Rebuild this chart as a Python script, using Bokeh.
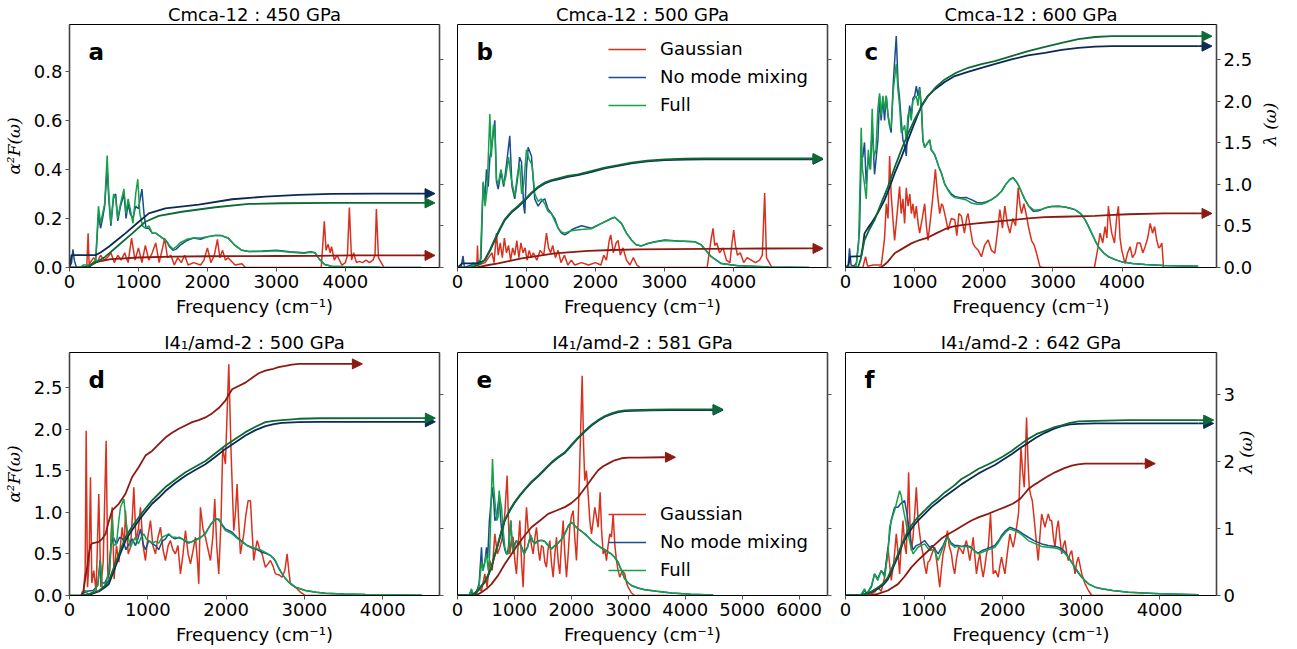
import numpy as np
from bokeh.plotting import figure
from bokeh.models import (Range1d, LinearAxis, Label, Legend, LegendItem, FixedTicker,
                          NumeralTickFormatter, CustomJSTickFormatter, Arrow, NormalHead)
from bokeh.layouts import row, column
from bokeh.embed import file_html
from bokeh.resources import INLINE

# ---------------- data (frequency cm^-1, value) ----------------
titles = ["Cmca-12 : 450 GPa", "Cmca-12 : 500 GPa", "Cmca-12 : 600 GPa",
          "I4\u2081/amd-2 : 500 GPa", "I4\u2081/amd-2 : 581 GPa", "I4\u2081/amd-2 : 642 GPa"]
letters = ["a", "b", "c", "d", "e", "f"]
series_names = ["Gaussian", "No mode mixing", "Full"]

top_freq_ticks = [0, 1000, 2000, 3000, 4000]
e_freq_ticks = [0, 1000, 2000, 3000, 4000, 5000, 6000]
top_a2f_ticks = [0.0, 0.2, 0.4, 0.6, 0.8]
top_lam_ticks = [0.0, 0.5, 1.0, 1.5, 2.0, 2.5]
bot_a2f_ticks = [0.0, 0.5, 1.0, 1.5, 2.0, 2.5]
bot_lam_ticks = [0, 1, 2, 3]

# ---- panel a ----
a_gauss = [(0,0),(250,0),(270,0.14),(285,0.01),(300,0.02),(350,0.04),(400,0.02),(450,0.05),(500,0.03),(550,0.04),(600,0.06),(650,0.02),(700,0.05),(750,0.03),(800,0.06),(850,0.02),(900,0.12),(950,0.03),(1000,0.08),(1050,0.02),(1100,0.09),(1150,0.03),(1200,0.06),(1250,0.1),(1300,0.02),(1350,0.08),(1380,0.12),(1420,0.04),(1470,0.05),(1520,0.01),(1570,0.04),(1620,0.02),(1670,0.05),(1720,0.01),(1800,0.02),(1900,0.01),(1950,0.03),(2000,0.08),(2050,0.02),(2100,0.05),(2145,0.115),(2180,0.04),(2220,0.07),(2260,0.03),(2300,0.04),(2400,0.01),(2500,0.015),(2550,0),(3650,0),(3695,0.188),(3720,0.07),(3750,0.095),(3780,0.06),(3800,0.085),(3840,0.03),(3880,0.05),(3950,0.01),(4000,0.02),(4030,0.05),(4058,0.245),(4090,0.03),(4120,0.06),(4160,0.02),(4200,0.025),(4250,0.02),(4300,0.03),(4350,0.02),(4400,0.03),(4430,0.05),(4450,0.238),(4480,0.04),(4520,0.02),(4560,0)]
a_nomix = [(0,0),(30,0.02),(50,0.074),(70,0.03),(100,0),(300,0.005),(380,0.03),(400,0.12),(420,0.22),(450,0.16),(480,0.20),(510,0.25),(546,0.40),(570,0.28),(600,0.17),(640,0.29),(670,0.30),(700,0.19),(740,0.25),(790,0.30),(820,0.20),(850,0.26),(880,0.22),(920,0.20),(960,0.25),(1000,0.24),(1050,0.32),(1080,0.22),(1110,0.16),(1150,0.16),(1200,0.14),(1250,0.14),(1300,0.13),(1350,0.12),(1400,0.11),(1450,0.085),(1500,0.07),(1550,0.075),(1600,0.09),(1700,0.11),(1800,0.12),(1900,0.115),(2000,0.125),(2100,0.13),(2200,0.13),(2300,0.12),(2400,0.09),(2500,0.07),(2600,0.065),(2800,0.067),(3000,0.07),(3200,0.064),(3400,0.06),(3500,0.064),(3560,0.06),(3620,0.035),(3700,0.012),(3800,0.005),(4000,0.003),(4500,0.001),(5100,0)]
a_full = [(0,0),(150,0),(200,0.01),(300,0.01),(380,0.03),(400,0.14),(420,0.25),(450,0.18),(480,0.22),(510,0.26),(546,0.457),(570,0.30),(600,0.18),(640,0.30),(670,0.28),(700,0.20),(740,0.26),(790,0.32),(820,0.22),(850,0.28),(880,0.24),(920,0.18),(960,0.30),(990,0.36),(1020,0.22),(1060,0.17),(1100,0.16),(1150,0.17),(1200,0.14),(1250,0.14),(1300,0.13),(1350,0.12),(1400,0.11),(1450,0.09),(1500,0.075),(1550,0.085),(1600,0.10),(1700,0.115),(1800,0.12),(1900,0.12),(2000,0.125),(2100,0.13),(2200,0.13),(2300,0.12),(2400,0.09),(2500,0.07),(2600,0.065),(2800,0.065),(3000,0.068),(3200,0.062),(3400,0.058),(3500,0.062),(3560,0.06),(3620,0.035),(3700,0.012),(3800,0.005),(4000,0.003),(4500,0.001),(5100,0)]
a_lam_gauss = [(280,0),(300,0.02),(400,0.068),(600,0.10),(800,0.11),(1000,0.12),(1500,0.13),(2000,0.135),(2500,0.137),(3000,0.138),(3600,0.139),(3800,0.142),(4100,0.145),(5100,0.145)]
a_lam_nomix = [(0,0),(30,0.149),(377,0.149),(450,0.18),(570,0.25),(690,0.33),(810,0.41),(1005,0.55),(1150,0.65),(1390,0.71),(1875,0.756),(2360,0.82),(2840,0.852),(3320,0.872),(3800,0.885),(4500,0.888),(5110,0.888)]
a_lam_full = [(0,0),(250,0),(300,0.028),(400,0.07),(520,0.13),(715,0.27),(910,0.41),(1100,0.55),(1295,0.62),(1630,0.67),(2115,0.724),(2600,0.764),(3080,0.772),(3800,0.776),(5110,0.776)]
a_tips = [5300, 5300, 5300]

# ---- panel b ----
b_gauss = [(0,0),(250,0),(280,0.01),(290,0.09),(300,0.01),(400,0.02),(450,0.04),(500,0.06),(530,0.02),(565,0.14),(590,0.05),(620,0.1),(650,0.04),(680,0.12),(710,0.06),(740,0.09),(770,0.03),(800,0.08),(830,0.05),(860,0.11),(890,0.04),(920,0.1),(950,0.06),(980,0.08),(1010,0.03),(1040,0.07),(1070,0.04),(1100,0.06),(1150,0.03),(1200,0.07),(1250,0.05),(1290,0.14),(1320,0.08),(1350,0.06),(1380,0.09),(1420,0.04),(1460,0.07),(1500,0.02),(1550,0.05),(1600,0.01),(1650,0.03),(1700,0.01),(1800,0.02),(1900,0.01),(2000,0.02),(2080,0.01),(2120,0.05),(2160,0.03),(2200,0.11),(2222,0.133),(2260,0.06),(2300,0.1),(2330,0.11),(2360,0.05),(2400,0.08),(2450,0.03),(2500,0.01),(2550,0.04),(2600,0.01),(2650,0),(3620,0),(3680,0.12),(3705,0.16),(3730,0.09),(3760,0.1),(3800,0.06),(3850,0.08),(3900,0.03),(3950,0.02),(3980,0.1),(4005,0.153),(4030,0.09),(4060,0.05),(4100,0.06),(4150,0.02),(4200,0.04),(4260,0.03),(4320,0.02),(4380,0.03),(4420,0.05),(4454,0.304),(4480,0.04),(4520,0.02),(4560,0)]
b_nomix = [(0,0),(50,0),(80,0.047),(100,0),(200,0.01),(300,0.02),(340,0.035),(372,0.345),(395,0.27),(420,0.40),(445,0.33),(470,0.45),(500,0.50),(541,0.60),(565,0.35),(590,0.32),(630,0.39),(670,0.33),(710,0.42),(758,0.537),(790,0.33),(830,0.28),(870,0.36),(900,0.45),(928,0.43),(960,0.25),(976,0.22),(1000,0.40),(1024,0.49),(1072,0.455),(1120,0.28),(1169,0.25),(1215,0.27),(1266,0.28),(1310,0.24),(1362,0.22),(1410,0.2),(1460,0.16),(1507,0.14),(1555,0.133),(1600,0.14),(1652,0.153),(1700,0.16),(1797,0.17),(1942,0.16),(2087,0.18),(2232,0.2),(2280,0.205),(2377,0.18),(2450,0.14),(2522,0.112),(2590,0.093),(2667,0.088),(2760,0.098),(2860,0.105),(3005,0.112),(3198,0.108),(3440,0.105),(3536,0.092),(3600,0.07),(3680,0.044),(3826,0.016),(4068,0.007),(4500,0.002),(5100,0)]
b_full = [(0,0),(200,0),(230,0.02),(260,0.01),(330,0.02),(372,0.35),(400,0.25),(430,0.32),(469,0.626),(490,0.45),(520,0.58),(541,0.57),(565,0.36),(590,0.34),(630,0.4),(670,0.34),(700,0.37),(740,0.45),(780,0.36),(830,0.29),(870,0.38),(900,0.42),(930,0.30),(960,0.34),(1000,0.48),(1040,0.44),(1080,0.42),(1120,0.30),(1169,0.27),(1215,0.28),(1266,0.26),(1310,0.23),(1362,0.22),(1410,0.19),(1460,0.16),(1507,0.145),(1555,0.14),(1600,0.145),(1652,0.15),(1700,0.152),(1797,0.155),(1942,0.158),(2087,0.18),(2232,0.2),(2280,0.205),(2377,0.18),(2450,0.14),(2522,0.112),(2590,0.093),(2667,0.088),(2760,0.098),(2860,0.104),(3005,0.11),(3198,0.108),(3440,0.105),(3536,0.092),(3600,0.07),(3680,0.044),(3826,0.016),(4068,0.007),(4500,0.002),(5100,0)]
b_lam_gauss = [(280,0),(300,0.005),(450,0.03),(590,0.05),(760,0.08),(928,0.11),(1170,0.14),(1410,0.17),(1650,0.185),(1894,0.2),(2250,0.21),(2618,0.217),(3585,0.225),(4100,0.228),(5100,0.229)]
b_lam_nomix = [(0,0),(70,0.05),(300,0.05),(350,0.07),(396,0.09),(470,0.2),(541,0.33),(610,0.45),(686,0.57),(780,0.66),(880,0.73),(980,0.81),(1072,0.89),(1170,0.96),(1266,1.01),(1360,1.04),(1459,1.06),(1600,1.09),(1749,1.11),(1950,1.15),(2135,1.19),(2330,1.22),(2522,1.25),(2750,1.275),(3005,1.29),(3300,1.298),(3584,1.30),(5100,1.30)]
b_lam_full = [(0,0),(200,0),(250,0.02),(300,0.03),(350,0.06),(396,0.09),(470,0.21),(541,0.34),(610,0.46),(686,0.58),(780,0.67),(880,0.74),(980,0.82),(1072,0.9),(1170,0.97),(1266,1.02),(1360,1.05),(1459,1.07),(1600,1.10),(1749,1.12),(1950,1.16),(2135,1.20),(2330,1.23),(2522,1.26),(2750,1.285),(3005,1.30),(3300,1.308),(3584,1.31),(5100,1.31)]
b_tips = [5300, 5300, 5300]

# ---- panel c ----
c_gauss = [(0,0),(250,0),(290,0.044),(320,0.005),(400,0.01),(517,0.01),(540,0.06),(565,0.12),(590,0.26),(615,0.2),(638,0.455),(660,0.3),(685,0.2),(710,0.11),(740,0.2),(782,0.33),(805,0.22),(830,0.28),(855,0.18),(879,0.325),(905,0.25),(930,0.3),(952,0.22),(975,0.26),(1000,0.2),(1024,0.25),(1050,0.18),(1072,0.14),(1110,0.2),(1145,0.26),(1170,0.17),(1193,0.11),(1230,0.2),(1260,0.28),(1300,0.40),(1330,0.3),(1362,0.22),(1390,0.26),(1410,0.25),(1450,0.2),(1483,0.153),(1530,0.2),(1580,0.195),(1610,0.13),(1640,0.22),(1676,0.21),(1720,0.14),(1750,0.2),(1773,0.22),(1810,0.15),(1840,0.1),(1870,0.085),(1920,0.07),(1966,0.044),(2010,0.09),(2063,0.112),(2110,0.07),(2160,0.058),(2200,0.15),(2232,0.236),(2270,0.16),(2304,0.25),(2340,0.18),(2377,0.14),(2420,0.2),(2460,0.17),(2497,0.325),(2525,0.25),(2546,0.22),(2580,0.26),(2618,0.21),(2650,0.16),(2691,0.11),(2730,0.09),(2763,0.058),(2812,0.003),(2850,0),(3600,0),(3650,0.08),(3681,0.14),(3720,0.1),(3754,0.167),(3780,0.12),(3802,0.25),(3830,0.18),(3850,0.14),(3890,0.1),(3920,0.2),(3947,0.25),(3970,0.12),(3995,0.07),(4043,0.016),(4080,0.06),(4116,0.085),(4150,0.04),(4188,0.058),(4220,0.1),(4261,0.1),(4300,0.06),(4333,0.085),(4370,0.12),(4406,0.18),(4440,0.14),(4470,0.167),(4502,0.11),(4530,0.08),(4551,0.085),(4575,0.1),(4599,0)]
c_nomix = [(0,0),(40,0.01),(58,0.078),(80,0.01),(120,0.005),(160,0.02),(203,0.15),(227,0.45),(250,0.45),(275,0.51),(300,0.34),(330,0.45),(360,0.40),(386,0.58),(420,0.38),(445,0.45),(469,0.52),(493,0.70),(515,0.6),(541,0.69),(565,0.60),(589,0.70),(615,0.62),(637,0.58),(660,0.55),(690,0.75),(734,0.944),(760,0.75),(782,0.69),(806,0.60),(830,0.52),(855,0.5),(879,0.455),(903,0.58),(927,0.66),(951,0.62),(975,0.69),(1000,0.70),(1024,0.74),(1048,0.70),(1072,0.736),(1100,0.65),(1120,0.516),(1145,0.49),(1169,0.5),(1217,0.52),(1240,0.48),(1266,0.47),(1290,0.46),(1314,0.44),(1350,0.41),(1386,0.386),(1435,0.34),(1483,0.318),(1530,0.30),(1580,0.29),(1676,0.284),(1750,0.285),(1821,0.277),(1900,0.265),(1966,0.263),(2040,0.268),(2111,0.277),(2180,0.29),(2256,0.311),(2320,0.34),(2377,0.359),(2425,0.366),(2470,0.35),(2497,0.338),(2550,0.305),(2594,0.277),(2650,0.25),(2715,0.229),(2780,0.23),(2836,0.236),(2910,0.245),(2981,0.249),(3080,0.25),(3174,0.247),(3250,0.242),(3319,0.236),(3400,0.22),(3464,0.195),(3510,0.17),(3560,0.14),(3610,0.11),(3657,0.085),(3730,0.06),(3802,0.044),(3900,0.032),(3995,0.023),(4150,0.016),(4333,0.012),(4600,0.008),(5100,0.005)]
c_full = [(0,0),(150,0),(190,0.1),(215,0.4),(227,0.57),(245,0.4),(270,0.35),(300,0.28),(330,0.48),(360,0.4),(386,0.647),(410,0.45),(440,0.48),(469,0.65),(493,0.71),(515,0.62),(541,0.70),(565,0.64),(589,0.70),(615,0.62),(637,0.58),(660,0.57),(690,0.72),(734,0.83),(760,0.72),(782,0.66),(806,0.55),(830,0.56),(855,0.58),(879,0.52),(903,0.62),(927,0.64),(951,0.60),(975,0.68),(1000,0.69),(1024,0.70),(1048,0.66),(1072,0.73),(1100,0.63),(1120,0.52),(1145,0.49),(1169,0.5),(1217,0.52),(1240,0.48),(1266,0.47),(1290,0.46),(1314,0.44),(1350,0.41),(1386,0.386),(1435,0.34),(1483,0.315),(1530,0.295),(1580,0.285),(1676,0.28),(1750,0.275),(1821,0.263),(1900,0.258),(1966,0.258),(2040,0.265),(2111,0.277),(2180,0.29),(2256,0.311),(2320,0.34),(2377,0.359),(2425,0.366),(2470,0.35),(2497,0.338),(2550,0.305),(2594,0.277),(2650,0.25),(2715,0.236),(2780,0.235),(2836,0.238),(2910,0.245),(2981,0.249),(3080,0.25),(3174,0.247),(3250,0.242),(3319,0.236),(3400,0.22),(3464,0.195),(3510,0.17),(3560,0.14),(3610,0.11),(3657,0.085),(3730,0.06),(3802,0.044),(3900,0.032),(3995,0.023),(4150,0.016),(4333,0.012),(4600,0.008),(5100,0.005)]
c_lam_gauss = [(480,0),(517,0.005),(560,0.03),(613,0.07),(660,0.12),(710,0.17),(830,0.23),(952,0.29),(1070,0.33),(1193,0.36),(1310,0.41),(1435,0.46),(1550,0.49),(1676,0.51),(1900,0.53),(2160,0.55),(2400,0.57),(2642,0.59),(2880,0.605),(3126,0.61),(3609,0.62),(3800,0.63),(4092,0.64),(4600,0.65),(5100,0.65)]
c_lam_nomix = [(0,0),(40,0.02),(70,0.13),(227,0.137),(250,0.25),(275,0.41),(320,0.47),(372,0.53),(470,0.66),(565,0.81),(640,0.97),(710,1.13),(810,1.33),(903,1.53),(1000,1.74),(1097,1.94),(1190,2.06),(1290,2.14),(1435,2.23),(1580,2.30),(1770,2.35),(1966,2.40),(2180,2.45),(2401,2.50),(2640,2.55),(2884,2.58),(3126,2.615),(3367,2.64),(3609,2.655),(3850,2.66),(5100,2.66)]
c_lam_full = [(0,0),(180,0.0),(220,0.1),(275,0.33),(340,0.45),(420,0.57),(520,0.78),(613,0.97),(710,1.2),(806,1.41),(900,1.6),(1000,1.78),(1097,1.93),(1193,2.06),(1310,2.17),(1435,2.26),(1600,2.34),(1773,2.40),(1966,2.445),(2160,2.48),(2400,2.54),(2642,2.6),(2884,2.65),(3126,2.70),(3367,2.745),(3609,2.77),(3850,2.78),(5100,2.78)]
c_tips = [5300, 5300, 5300]

# ---- panel d ----
d_gauss = [(0,0),(150,0),(180,0.05),(200,0.3),(213,1.98),(230,0.1),(250,0.4),(268,1.42),(285,0.15),(310,0.3),(340,0.05),(374,1.22),(400,0.1),(430,0.4),(468,1.86),(490,0.2),(515,0.3),(545,1.06),(570,0.2),(600,0.6),(630,0.4),(672,0.82),(700,0.6),(715,1.02),(750,0.5),(779,0.58),(800,0.9),(821,1.3),(850,0.66),(880,0.8),(906,1.06),(940,0.6),(970,0.42),(1000,0.7),(1034,0.9),(1065,0.6),(1098,0.5),(1130,0.7),(1162,0.82),(1195,0.55),(1225,0.42),(1260,0.6),(1289,0.66),(1320,0.55),(1353,0.5),(1385,0.6),(1417,0.26),(1450,0.5),(1481,0.78),(1515,0.5),(1545,0.38),(1580,0.55),(1609,0.7),(1635,0.4),(1651,0.14),(1672,1.06),(1705,0.8),(1736,0.7),(1770,0.55),(1800,0.42),(1830,0.7),(1855,1.16),(1880,0.6),(1906,0.26),(1935,0.9),(1957,1.78),(1991,1.58),(2034,2.78),(2064,1.7),(2098,0.78),(2120,1.0),(2140,1.34),(2160,0.9),(2183,0.5),(2200,0.6),(2226,0.74),(2250,0.95),(2281,1.14),(2311,1.14),(2330,0.8),(2353,0.42),(2375,0.55),(2396,0.66),(2430,0.55),(2460,0.5),(2480,0.42),(2502,0.34),(2535,0.38),(2566,0.42),(2600,0.35),(2630,0.26),(2670,0.25),(2715,0.22),(2750,0.3),(2779,0.5),(2800,0.3),(2821,0.14),(2850,0.12),(2885,0.1),(2949,0.04),(3013,0),(3600,0)]
d_nomix = [(0,0),(150,0),(180,0.03),(220,0.05),(300,0.06),(360,0.12),(390,0.42),(410,0.15),(450,0.15),(500,0.25),(530,0.6),(560,0.7),(600,0.62),(640,0.7),(680,0.68),(720,0.55),(760,0.62),(800,0.68),(843,0.6),(880,0.7),(906,0.8),(940,0.62),(970,0.55),(1013,0.66),(1060,0.62),(1100,0.6),(1140,0.55),(1183,0.65),(1225,0.68),(1268,0.74),(1310,0.7),(1353,0.68),(1400,0.7),(1438,0.68),(1480,0.65),(1523,0.63),(1570,0.65),(1609,0.67),(1680,0.7),(1736,0.75),(1800,0.85),(1864,0.92),(1906,0.91),(1950,0.85),(1991,0.8),(2077,0.76),(2140,0.7),(2204,0.65),(2270,0.6),(2332,0.57),(2400,0.55),(2460,0.52),(2520,0.5),(2566,0.48),(2600,0.45),(2630,0.41),(2670,0.33),(2715,0.26),(2760,0.2),(2800,0.16),(2885,0.1),(3013,0.06),(3150,0.04),(3268,0.028),(3500,0.018),(3779,0.012),(4100,0.008),(4500,0.003)]
d_full = [(0,0),(150,0),(162,0.04),(200,0.06),(240,0.01),(300,0.04),(360,0.12),(396,0.42),(420,0.08),(470,0.15),(520,0.4),(545,0.94),(565,0.6),(600,0.62),(630,0.9),(651,1.06),(694,1.16),(720,0.9),(750,0.7),(779,0.58),(810,0.65),(843,0.7),(880,0.62),(915,0.7),(949,0.74),(980,0.68),(1013,0.66),(1060,0.63),(1100,0.65),(1140,0.63),(1183,0.7),(1225,0.72),(1268,0.74),(1310,0.7),(1353,0.7),(1400,0.69),(1438,0.68),(1480,0.66),(1523,0.64),(1570,0.65),(1609,0.66),(1680,0.7),(1736,0.74),(1800,0.85),(1864,0.92),(1906,0.92),(1950,0.84),(1991,0.78),(2077,0.74),(2140,0.69),(2204,0.64),(2270,0.6),(2332,0.58),(2400,0.56),(2460,0.54),(2520,0.51),(2566,0.48),(2600,0.45),(2630,0.42),(2670,0.34),(2715,0.26),(2760,0.2),(2800,0.16),(2885,0.1),(3013,0.06),(3150,0.04),(3268,0.028),(3500,0.018),(3779,0.012),(4100,0.008),(4500,0.003)]
d_lam_gauss = [(150,0),(175,0.05),(204,0.27),(230,0.45),(247,0.62),(270,0.75),(289,0.78),(374,0.80),(420,0.85),(460,0.92),(500,1.1),(545,1.27),(630,1.37),(715,1.52),(800,1.77),(885,1.92),(970,2.09),(1055,2.16),(1140,2.26),(1225,2.36),(1310,2.43),(1396,2.49),(1480,2.54),(1566,2.59),(1650,2.62),(1736,2.66),(1820,2.72),(1906,2.80),(1991,2.91),(2034,3.0),(2077,3.08),(2160,3.13),(2247,3.18),(2330,3.25),(2417,3.32),(2500,3.36),(2587,3.38),(2670,3.41),(2757,3.43),(2840,3.45),(2928,3.46),(3609,3.46)]
d_lam_nomix = [(150,0),(250,0.01),(374,0.06),(450,0.12),(502,0.17),(560,0.35),(630,0.57),(715,0.82),(800,0.98),(885,1.12),(970,1.25),(1055,1.37),(1140,1.46),(1225,1.56),(1350,1.68),(1481,1.79),(1600,1.87),(1736,1.96),(1860,2.07),(1991,2.19),(2120,2.29),(2247,2.39),(2375,2.47),(2502,2.53),(2610,2.56),(2715,2.58),(2928,2.59),(3200,2.595),(4500,2.595)]
d_lam_full = [(150,0),(250,0.02),(374,0.07),(450,0.14),(502,0.22),(560,0.40),(630,0.62),(715,0.87),(800,1.03),(885,1.17),(970,1.30),(1055,1.42),(1140,1.52),(1225,1.62),(1350,1.73),(1481,1.84),(1600,1.92),(1736,2.01),(1860,2.12),(1991,2.24),(2120,2.34),(2247,2.44),(2375,2.52),(2502,2.59),(2610,2.61),(2715,2.62),(2928,2.64),(3200,2.648),(4500,2.65)]
d_tips = [3740, 4672, 4672]

# ---- panel e ----
e_gauss = [(0,0),(300,0),(363,0.1),(420,0.05),(480,0.26),(520,0.1),(568,0.42),(610,0.3),(656,0.74),(700,0.5),(744,0.58),(790,0.7),(831,0.98),(872,1.44),(900,0.8),(919,0.5),(950,0.7),(978,0.7),(1010,0.4),(1036,0.26),(1065,0.6),(1095,0.9),(1125,0.4),(1153,0.1),(1185,0.7),(1212,1.06),(1240,0.8),(1270,0.74),(1300,0.6),(1329,0.5),(1360,0.7),(1388,0.82),(1420,0.55),(1446,0.42),(1475,0.6),(1505,0.58),(1535,0.4),(1563,0.34),(1590,0.55),(1622,0.66),(1650,0.4),(1680,0.22),(1710,0.5),(1739,0.7),(1770,0.4),(1797,0.26),(1825,0.6),(1856,0.9),(1885,0.5),(1915,0.22),(1945,0.5),(1973,0.82),(2000,0.95),(2032,1.02),(2060,0.7),(2090,0.42),(2120,0.9),(2149,1.62),(2190,2.64),(2215,1.8),(2236,1.38),(2265,1.5),(2295,1.22),(2325,0.9),(2354,0.74),(2385,0.9),(2412,1.06),(2440,0.95),(2471,0.82),(2506,1.24),(2530,0.8),(2559,0.5),(2590,0.55),(2617,0.42),(2645,0.6),(2676,0.74),(2705,0.7),(2734,0.98),(2765,0.6),(2793,0.42),(2822,0.3),(2851,0.22),(2895,0.3),(2939,0.26),(2970,0.15),(2998,0.1),(3056,0.03),(3115,0),(3700,0)]
e_nomix = [(0,0),(200,0),(246,0.06),(270,0.01),(330,0.02),(380,0.15),(422,0.58),(440,0.3),(480,0.4),(509,0.58),(530,0.45),(560,0.9),(600,1.2),(615,1.3),(640,1.1),(656,0.9),(690,0.95),(714,1.1),(732,1.2),(760,0.9),(790,0.7),(831,0.55),(860,0.5),(890,0.55),(937,0.9),(960,0.6),(978,0.55),(1006,0.62),(1036,0.66),(1060,0.62),(1095,0.62),(1130,0.58),(1171,0.5),(1200,0.55),(1230,0.58),(1260,0.66),(1288,0.72),(1320,0.65),(1358,0.63),(1400,0.65),(1446,0.66),(1490,0.66),(1534,0.65),(1590,0.6),(1651,0.56),(1710,0.6),(1768,0.63),(1830,0.68),(1885,0.74),(1950,0.84),(2002,0.88),(2060,0.84),(2119,0.8),(2180,0.77),(2236,0.74),(2300,0.7),(2354,0.66),(2410,0.63),(2471,0.6),(2530,0.57),(2588,0.55),(2650,0.52),(2705,0.5),(2760,0.46),(2822,0.4),(2880,0.3),(2939,0.2),(3000,0.15),(3056,0.12),(3170,0.09),(3290,0.07),(3500,0.05),(3759,0.03),(4100,0.015),(4490,0.007)]
e_full = [(0,0),(200,0),(246,0.08),(270,0.01),(330,0.02),(380,0.12),(422,0.4),(450,0.3),(509,0.5),(540,0.3),(565,0.5),(590,1.1),(615,1.64),(635,1.3),(656,1.14),(690,0.9),(714,0.95),(732,1.26),(750,1.15),(773,1.06),(800,0.8),(831,0.58),(860,0.5),(890,0.5),(937,0.9),(960,0.6),(978,0.5),(1006,0.6),(1036,0.66),(1065,0.63),(1095,0.62),(1130,0.56),(1171,0.5),(1200,0.54),(1230,0.58),(1260,0.66),(1288,0.72),(1320,0.66),(1358,0.62),(1400,0.64),(1446,0.66),(1490,0.66),(1534,0.65),(1590,0.6),(1651,0.56),(1710,0.6),(1768,0.63),(1830,0.68),(1885,0.74),(1950,0.84),(2002,0.88),(2060,0.84),(2119,0.8),(2180,0.77),(2236,0.74),(2300,0.7),(2354,0.66),(2410,0.63),(2471,0.6),(2530,0.57),(2588,0.55),(2650,0.52),(2705,0.5),(2760,0.46),(2822,0.4),(2880,0.3),(2939,0.2),(3000,0.15),(3056,0.12),(3170,0.09),(3290,0.07),(3500,0.05),(3759,0.03),(4100,0.015),(4490,0.007)]
e_lam_gauss = [(300,0),(363,0.02),(422,0.05),(510,0.1),(597,0.17),(714,0.3),(831,0.47),(950,0.62),(1066,0.77),(1183,0.9),(1300,1.02),(1450,1.12),(1593,1.22),(1740,1.27),(1885,1.32),(2000,1.38),(2119,1.47),(2190,1.55),(2295,1.67),(2380,1.77),(2471,1.87),(2560,1.93),(2646,1.97),(2760,2.02),(2881,2.05),(3000,2.06),(3173,2.06),(3642,2.065)]
e_lam_nomix = [(0,0),(200,0.0),(246,0.012),(300,0.03),(363,0.075),(420,0.14),(480,0.2),(540,0.3),(597,0.42),(655,0.6),(714,0.77),(770,0.95),(831,1.12),(920,1.27),(1007,1.39),(1095,1.49),(1183,1.58),(1300,1.69),(1417,1.78),(1535,1.88),(1651,1.98),(1768,2.06),(1885,2.13),(2000,2.24),(2119,2.35),(2236,2.45),(2354,2.54),(2470,2.61),(2588,2.67),(2705,2.71),(2822,2.74),(2940,2.755),(3056,2.76),(3400,2.765),(3759,2.77),(4403,2.77)]
e_lam_full = [(0,0),(200,0.0),(246,0.015),(300,0.035),(363,0.08),(420,0.145),(480,0.21),(540,0.31),(597,0.43),(655,0.61),(714,0.78),(770,0.96),(831,1.13),(920,1.28),(1007,1.4),(1095,1.5),(1183,1.59),(1300,1.7),(1417,1.79),(1535,1.89),(1651,1.99),(1768,2.07),(1885,2.14),(2000,2.25),(2119,2.36),(2236,2.46),(2354,2.55),(2470,2.62),(2588,2.68),(2705,2.72),(2822,2.75),(2940,2.765),(3056,2.77),(3400,2.775),(3759,2.78),(4403,2.78)]
e_tips = [3829, 4666, 4666]

# ---- panel f ----
f_gauss = [(0,0),(250,0),(328,0.02),(380,0.05),(413,0.1),(455,0.05),(498,0.22),(540,0.58),(583,0.18),(615,0.4),(647,0.74),(670,0.5),(689,0.26),(710,0.6),(732,0.9),(755,0.6),(774,0.5),(804,1.48),(820,0.9),(838,0.54),(860,0.7),(881,0.98),(902,1.3),(925,0.9),(945,0.74),(965,0.6),(987,0.5),(1010,0.35),(1030,0.26),(1050,0.4),(1072,0.42),(1100,0.5),(1136,0.58),(1170,0.35),(1200,0.1),(1220,0.3),(1243,0.5),(1270,0.6),(1298,0.78),(1320,0.6),(1349,0.5),(1370,0.35),(1391,0.26),(1415,0.45),(1443,0.58),(1470,0.55),(1498,0.5),(1520,0.6),(1540,0.66),(1560,0.55),(1583,0.42),(1605,0.55),(1626,0.7),(1645,0.5),(1668,0.26),(1690,0.4),(1711,0.5),(1730,0.35),(1753,0.22),(1775,0.35),(1796,0.5),(1820,0.6),(1847,0.98),(1865,0.6),(1881,0.26),(1910,0.3),(1945,0.22),(1965,0.35),(1987,0.46),(2010,0.35),(2030,0.26),(2060,0.5),(2094,0.74),(2115,0.65),(2136,0.58),(2160,0.7),(2179,0.82),(2205,1.0),(2234,1.78),(2255,1.5),(2277,1.3),(2306,2.14),(2325,1.6),(2340,1.3),(2360,1.2),(2379,1.14),(2400,0.95),(2413,0.82),(2435,0.6),(2455,0.42),(2475,0.7),(2498,0.98),(2520,0.9),(2540,0.82),(2560,0.9),(2583,0.98),(2605,0.9),(2626,0.9),(2648,0.7),(2668,0.58),(2690,0.8),(2711,0.9),(2730,0.7),(2753,0.5),(2775,0.6),(2796,0.66),(2818,0.5),(2838,0.42),(2860,0.5),(2881,0.54),(2900,0.4),(2923,0.26),(2945,0.4),(2966,0.46),(2990,0.35),(3009,0.26),(3030,0.2),(3051,0.14),(3094,0.06),(3136,0),(3800,0)]
f_nomix = [(0,0),(200,0.01),(243,0.06),(270,0.02),(330,0.1),(370,0.26),(410,0.2),(455,0.3),(498,0.25),(540,0.55),(580,0.9),(626,1.06),(668,1.06),(700,1.1),(753,1.14),(780,1.0),(796,0.9),(830,0.65),(860,0.55),(900,0.6),(950,0.62),(1009,0.66),(1040,0.62),(1072,0.58),(1100,0.6),(1136,0.56),(1179,0.5),(1210,0.55),(1243,0.6),(1280,0.68),(1306,0.7),(1340,0.64),(1391,0.6),(1430,0.6),(1477,0.59),(1530,0.6),(1583,0.59),(1640,0.54),(1689,0.51),(1740,0.54),(1796,0.56),(1850,0.58),(1902,0.6),(1950,0.66),(1987,0.72),(2040,0.78),(2094,0.82),(2150,0.8),(2200,0.78),(2260,0.74),(2328,0.7),(2400,0.66),(2498,0.62),(2580,0.6),(2668,0.59),(2710,0.58),(2753,0.56),(2800,0.52),(2838,0.46),(2880,0.4),(2923,0.33),(2966,0.27),(3009,0.22),(3050,0.18),(3094,0.14),(3180,0.1),(3264,0.08),(3400,0.06),(3604,0.04),(4000,0.02),(4498,0.01)]
f_full = [(0,0),(200,0.012),(243,0.08),(270,0.02),(330,0.12),(370,0.26),(410,0.18),(455,0.3),(498,0.22),(540,0.5),(562,0.82),(600,0.95),(626,1.02),(660,1.15),(689,1.26),(710,1.2),(732,1.06),(765,0.9),(796,0.74),(830,0.6),(860,0.5),(900,0.55),(923,0.58),(960,0.6),(1009,0.62),(1040,0.58),(1072,0.54),(1100,0.55),(1136,0.54),(1179,0.42),(1210,0.5),(1243,0.58),(1280,0.66),(1306,0.7),(1340,0.62),(1391,0.58),(1430,0.59),(1477,0.59),(1530,0.59),(1583,0.58),(1640,0.54),(1689,0.5),(1740,0.52),(1796,0.54),(1850,0.56),(1902,0.58),(1950,0.64),(1987,0.7),(2040,0.76),(2094,0.8),(2150,0.78),(2200,0.76),(2260,0.72),(2328,0.66),(2400,0.63),(2498,0.59),(2580,0.58),(2668,0.57),(2710,0.56),(2753,0.54),(2800,0.5),(2838,0.46),(2880,0.4),(2923,0.34),(2966,0.28),(3009,0.22),(3050,0.18),(3094,0.14),(3180,0.1),(3264,0.08),(3400,0.06),(3604,0.04),(4000,0.02),(4498,0.01)]
f_lam_gauss = [(300,0),(413,0.025),(540,0.075),(600,0.12),(668,0.17),(750,0.28),(838,0.42),(920,0.52),(1009,0.62),(1110,0.73),(1221,0.85),(1300,0.91),(1391,0.97),(1500,1.05),(1604,1.12),(1700,1.17),(1817,1.22),(1920,1.27),(2030,1.32),(2130,1.37),(2221,1.44),(2280,1.52),(2328,1.59),(2400,1.65),(2455,1.69),(2560,1.77),(2668,1.84),(2780,1.9),(2881,1.94),(2960,1.96),(3051,1.97),(3391,1.97),(3796,1.97)]
f_lam_nomix = [(0,0),(200,0.0),(243,0.02),(330,0.05),(413,0.1),(480,0.16),(540,0.24),(600,0.4),(668,0.58),(730,0.78),(796,0.92),(860,1.03),(923,1.12),(1009,1.22),(1094,1.32),(1180,1.4),(1264,1.48),(1370,1.57),(1477,1.66),(1583,1.74),(1689,1.82),(1800,1.89),(1902,1.95),(2010,2.03),(2115,2.11),(2220,2.2),(2328,2.28),(2430,2.36),(2540,2.43),(2650,2.49),(2753,2.53),(2860,2.555),(2966,2.565),(3179,2.57),(3604,2.57),(4498,2.57)]
f_lam_full = [(0,0),(200,0.0),(243,0.025),(330,0.06),(413,0.12),(480,0.18),(540,0.27),(600,0.43),(668,0.62),(730,0.8),(796,0.97),(860,1.08),(923,1.17),(1009,1.27),(1094,1.37),(1180,1.45),(1264,1.54),(1370,1.63),(1477,1.74),(1583,1.81),(1689,1.89),(1800,1.95),(1902,2.01),(2010,2.08),(2115,2.16),(2220,2.25),(2328,2.34),(2430,2.41),(2540,2.46),(2650,2.51),(2753,2.54),(2860,2.58),(2966,2.6),(3179,2.61),(3604,2.62),(4498,2.62)]
f_tips = [3945, 4689, 4689]

# ---------------- styling ----------------
FONT = "DejaVu Sans"
SERIF = "DejaVu Serif"
FS = "18px"
A2F_COLORS = ["#d8321f", "#1c4b8e", "#16a04a"]
LAM_COLORS = ["#8c1a12", "#0b2a55", "#0d6a35"]
FH = 243


def unzip(pairs):
    return [q[0] for q in pairs], [q[1] for q in pairs]


def style_axis(ax, line_color="#444444", line_width=1.6):
    ax.major_tick_out = 4
    ax.major_tick_in = 0
    ax.minor_tick_out = 0
    ax.minor_tick_in = 0
    ax.major_tick_line_color = "#555555"
    ax.major_tick_line_width = 1
    ax.axis_line_color = line_color
    ax.axis_line_width = line_width
    ax.major_label_text_font = FONT
    ax.major_label_text_font_size = FS
    ax.major_label_text_color = "black"
    ax.major_label_standoff = 3
    ax.axis_label_text_color = "black"


def make_panel(idx, a2f, lams, tips, xmax, xticks, ymax, yticks, lmax, lticks, lfmt,
               fw, bl, br, bt, bb, left_axis, right_labels, lam_standoff, legend_loc):
    p = figure(frame_width=fw, frame_height=FH, title=titles[idx],
               x_range=Range1d(0, xmax), y_range=Range1d(0, ymax),
               output_backend="svg", toolbar_location=None,
               min_border_left=bl, min_border_right=br,
               min_border_top=bt, min_border_bottom=bb,
               y_axis_location="left" if left_axis else None)
    p.title.align = "center"
    p.title.text_font = FONT
    p.title.text_font_size = "18px"
    p.title.text_font_style = "normal"
    p.title.text_color = "black"
    if "standoff" in p.title.properties():
        p.title.standoff = 0
    p.extra_y_ranges = {"lam": Range1d(0, lmax)}
    p.grid.visible = False
    p.outline_line_color = "black"
    p.outline_line_width = 1
    p.background_fill_color = "white"
    p.border_fill_color = "white"

    xa = p.xaxis[0]
    style_axis(xa, line_color="black", line_width=1)
    xa.ticker = FixedTicker(ticks=xticks)
    xa.formatter = NumeralTickFormatter(format="0")
    xa.axis_label = "Frequency (cm\u207b\u00b9)"
    xa.axis_label_text_font = FONT
    xa.axis_label_text_font_size = FS
    xa.axis_label_text_font_style = "normal"
    xa.axis_label_standoff = 5

    if left_axis:
        ya = p.yaxis[0]
        style_axis(ya)
        ya.ticker = FixedTicker(ticks=yticks)
        ya.formatter = NumeralTickFormatter(format="0.0")
        ya.axis_label = "\u03b1\u00b2F(\u03c9)"
        ya.axis_label_text_font = SERIF
        ya.axis_label_text_font_size = "17px"
        ya.axis_label_text_font_style = "italic"
        ya.axis_label_standoff = 7

    ra = LinearAxis(y_range_name="lam")
    style_axis(ra)
    ra.ticker = FixedTicker(ticks=lticks)
    if right_labels:
        ra.formatter = NumeralTickFormatter(format=lfmt)
        ra.axis_label = "\u03bb (\u03c9)"
        ra.axis_label_text_font = SERIF
        ra.axis_label_text_font_size = "17px"
        ra.axis_label_text_font_style = "italic"
        ra.axis_label_standoff = lam_standoff
        if "axis_label_orientation" in ra.properties():
            ra.axis_label_orientation = float(np.pi / 2)
    else:
        ra.formatter = CustomJSTickFormatter(code="return ''")
    p.add_layout(ra, "right")

    rends = []
    for pairs, col in zip(a2f, A2F_COLORS):
        xs, ys = unzip(pairs)
        rends.append(p.line(xs, ys, line_color=col, line_width=1.5))

    for pairs, col, tip in zip(lams, LAM_COLORS, tips):
        xs, ys = unzip(pairs)
        p.line(xs, ys, line_color=col, line_width=1.8, y_range_name="lam")
        p.add_layout(Arrow(end=NormalHead(size=10, fill_color=col, line_color=col, line_width=1),
                           x_start=xs[-1], y_start=ys[-1], x_end=tip, y_end=ys[-1],
                           line_color=col, line_width=1.8, y_range_name="lam"))

    p.add_layout(Label(x=xmax * 19.0 / fw, y=ymax * (1 - 27.0 / FH), text=letters[idx],
                       text_font=FONT, text_font_size="23px", text_font_style="bold",
                       text_color="black", text_baseline="alphabetic", text_align="left"))

    if legend_loc is not None:
        items = [LegendItem(label=n, renderers=[r]) for n, r in zip(series_names, rends)]
        leg = Legend(items=items, location=legend_loc, padding=0, margin=0, spacing=7,
                     glyph_width=38, glyph_height=20, label_height=20, label_standoff=14,
                     label_text_font=FONT, label_text_font_size=FS, label_text_color="black",
                     background_fill_alpha=0, border_line_alpha=0)
        p.add_layout(leg)
    return p


TOP_X = 5365
BOT_X = 4725
E_X = 6500
TOP_Y = 0.991
TOP_L = 2.92
BOT_Y = 2.92
BOT_L = 3.63

pa = make_panel(0, [a_gauss, a_nomix, a_full], [a_lam_gauss, a_lam_nomix, a_lam_full], a_tips,
                TOP_X, top_freq_ticks, TOP_Y, top_a2f_ticks, TOP_L, top_lam_ticks, "0.0",
                370, 67, 9, 24, 55, True, False, 8, None)
pb = make_panel(1, [b_gauss, b_nomix, b_full], [b_lam_gauss, b_lam_nomix, b_lam_full], b_tips,
                TOP_X, top_freq_ticks, TOP_Y, top_a2f_ticks, TOP_L, top_lam_ticks, "0.0",
                370, 9, 9, 24, 55, False, False, 8, (151, 152))
pc = make_panel(2, [c_gauss, c_nomix, c_full], [c_lam_gauss, c_lam_nomix, c_lam_full], c_tips,
                TOP_X, top_freq_ticks, TOP_Y, top_a2f_ticks, TOP_L, top_lam_ticks, "0.0",
                371, 9, 70, 24, 55, False, True, 15, None)
pd_ = make_panel(3, [d_gauss, d_nomix, d_full], [d_lam_gauss, d_lam_nomix, d_lam_full], d_tips,
                 BOT_X, top_freq_ticks, BOT_Y, bot_a2f_ticks, BOT_L, bot_lam_ticks, "0",
                 370, 67, 9, 30, 50, True, False, 8, None)
pe = make_panel(4, [e_gauss, e_nomix, e_full], [e_lam_gauss, e_lam_nomix, e_lam_full], e_tips,
                E_X, e_freq_ticks, BOT_Y, bot_a2f_ticks, BOT_L, bot_lam_ticks, "0",
                370, 9, 9, 30, 50, False, False, 8, (151, 15))
pf = make_panel(5, [f_gauss, f_nomix, f_full], [f_lam_gauss, f_lam_nomix, f_lam_full], f_tips,
                BOT_X, top_freq_ticks, BOT_Y, bot_a2f_ticks, BOT_L, bot_lam_ticks, "0",
                371, 9, 70, 30, 50, False, True, 8, None)

layout = column(row(pa, pb, pc), row(pd_, pe, pf))
open("out.html", "w").write(file_html(layout, INLINE))
